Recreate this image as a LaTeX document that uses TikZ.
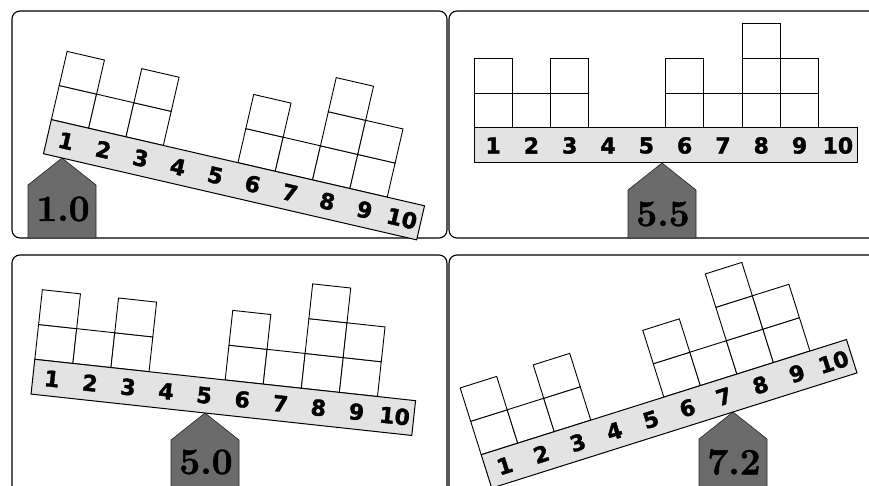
\documentclass[tikz,border=0pt]{standalone}
\usepackage{fontspec}
\newfontfamily\numfont{DejaVu Sans}[BoldFeatures={FakeBold=1.6}]
\newfontfamily\labfont{Latin Modern Roman}[BoldFeatures={FakeBold=1.4}]
\newcommand\myL{383}
\newcommand\myw{38.3}
\newcommand\myH{35}
\newcommand\myh{35}
% #1 name, #2 pivot x, #3 pivot y, #4 angle, #5 distance from beam left end to pivot,
% #6 fulcrum bottom y, #7 label, #8 label drop below apex
\newcommand\seesaw[8]{%
  \draw[fulcrum] (#2,#3) -- ({#2+34},{#3-27}) -- ({#2+34},#6) -- ({#2-34},#6) -- ({#2-34},{#3-27}) -- cycle;
  \node[lab] (#1-lab) at ({#2+1},{#3-#8}) {#7};
  \begin{scope}[shift={(#2,#3)},rotate=#4,shift={(-#5,0)},transform shape]
    \foreach \k/\n in {1/2,2/1,3/2,6/2,7/1,8/3,9/2}{
      \foreach \j in {1,...,\n}{
        \draw[sq] ({(\k-1)*\myw},{\myH+(\j-1)*\myh}) rectangle ++(\myw,\myh);
      }
    }
    \draw[beam] (0,0) rectangle (\myL,\myH);
    \foreach \k in {1,...,10}{
      \node[num] (#1-n\k) at ({(\k-0.5)*\myw},{\myH/2}) {\k};
    }
  \end{scope}%
}
\begin{document}
\begin{tikzpicture}[x=1pt,y=1pt,
  panel/.style={draw=black,line width=1.1pt,rounded corners=8pt,fill=white},
  beam/.style={draw=black,line width=1pt,fill=black!11},
  sq/.style={draw=black,line width=0.9pt,fill=white},
  fulcrum/.style={draw=black!85,line width=0.6pt,fill=black!58},
  num/.style={font={\numfont\bfseries\fontsize{22}{22}\selectfont},inner sep=0pt},
  lab/.style={font={\labfont\bfseries\fontsize{37}{37}\selectfont},inner sep=0pt}]
\useasboundingbox (0,0) rectangle (869,486);
\clip (0,0) rectangle (869,486);
\fill[white] (0,0) rectangle (869,486);
% panels
\draw[panel] (12,248) rectangle (447,475);
\draw[panel] (449,248) rectangle (890,475);
\draw[panel] (12,-20) rectangle (447,231);
\draw[panel] (449,-20) rectangle (890,231);
% seesaws
\seesaw{a}{62}{328}{-13}{19}{248}{1.0}{51}
\seesaw{b}{662}{323}{0}{188}{248}{5.5}{51}
\seesaw{c}{205}{73}{-6.2}{175}{-20}{5.0}{49}
\seesaw{d}{733}{74}{17.5}{253}{-20}{7.2}{50}
\end{tikzpicture}
\end{document}
